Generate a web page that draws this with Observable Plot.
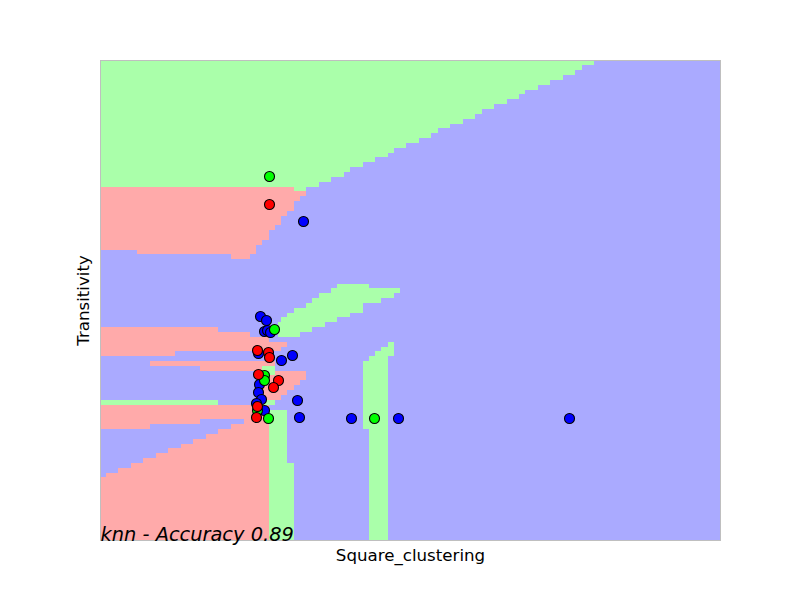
<!DOCTYPE html>
<html>
<head>
<meta charset="utf-8">
<script src="https://cdn.jsdelivr.net/npm/d3@7"></script>
<script src="https://cdn.jsdelivr.net/npm/@observablehq/plot@0.6"></script>
<style>
  html, body { margin: 0; padding: 0; background: #ffffff; }
  #chart svg { display: block; }
</style>
</head>
<body>
<div id="chart"></div>
<script>
// ---- Text ----
const titleText = "knn - Accuracy 0.89";
const xLabel = "Square_clustering";
const yLabel = "Transitivity";

// ---- Colours (decision regions / test points) ----
const regionColor = { red: "#ffaaaa", green: "#aaffaa", blue: "#aaaaff" };
const pointColor  = { red: "#ff0000", green: "#00ff00", blue: "#0000ff" };

// ---- Mesh extent (x: Square_clustering, y: Transitivity, mesh units) ----
const xExtent = [0, 620];
const yExtent = [0, 480];

// ---- Decision regions: [x1, x2, y1, y2] cells ----
// Top green region: column edges and the lower edge of each column (top edge = yExtent max)
const greenTopEdges = [0,194,206,219,231,244,250,263,275,288,294,306,319,331,338,350,363,375,382,394,407,419,425,438,450,463,475,482,494];
const greenTopFloor = [353,349,353,358,363,368,373,378,383,387,392,397,402,407,412,416,421,426,431,436,441,446,450,455,460,465,470,475];

const redUpper = [
  [0,194,349,353],[0,206,344,349],[0,200,339,344],[0,194,329,339],
  [0,187,324,329],[0,181,315,324],[0,175,310,315],[0,169,300,310],
  [0,162,295,300],[0,156,290,295],[37,156,286,290],[131,150,281,286]
];
const redMiddle = [
  [0,118,208,213],[0,150,203,208],[0,169,198,203],
  [0,187,193,198],[0,181,189,193],[0,75,184,189]
];
const redLower = [
  [50,175,174,179],[100,162,169,174],[162,206,160,169],[162,200,155,160],
  [162,194,150,155],[162,187,145,150],[162,181,140,145]
];
const redBottom = [[0,169,0,135]];
const blueWedge = [
  [0,6,63,111],[6,18,67,111],[18,31,72,111],[31,43,77,111],[43,50,82,111],
  [50,56,82,116],[56,68,87,116],[68,81,92,116],[81,93,96,116],[93,100,101,116],
  [100,106,101,121],[106,118,106,121],[118,131,111,121],[131,144,116,121]
];
const greenBand = [
  [237,269,252,256],[231,300,247,252],[219,294,242,247],[212,281,237,242],
  [206,263,232,237],[194,263,227,232],[187,250,223,227],[181,237,218,223],
  [178,225,213,218],[178,212,208,213],[178,200,203,208]
];
const greenTall = [
  [263,269,111,179],[269,275,0,184],[275,281,0,189],[281,288,0,193],[288,294,184,198]
];
const greenLower = [[169,187,0,130],[187,194,0,77]];
const greenSmall = [[0,118,135,140],[162,175,135,140],[162,175,165,174]];

// ---- Test points [x, y] ----
const bluePoints = [
  [203,319],[160,224],[166,220],[164,209],[167,210],[170,208],[158,187],[181,180],
  [192,185],[159,156],[158,148],[161,141],[156,137],[164,130],[197,140],[199,123],
  [251,122],[298,122],[469,122]
];
const greenPoints = [[169,364],[174,211],[164,165],[164,160],[157,130],[168,122],[274,122]];
const redPoints = [
  [169,336],[157,190],[168,188],[169,183],[158,166],[178,160],[173,153],[157,134],[156,123]
];

// ---- Build tables ----
const toCells = (arr, cls) => arr.map(([x1, x2, y1, y2]) => ({x1, x2, y1, y2, cls}));
const greenTop = greenTopFloor.map((f, i) => ({x1: greenTopEdges[i], x2: greenTopEdges[i + 1], y1: f, y2: yExtent[1], cls: "green"}));
const background = [{x1: xExtent[0], x2: xExtent[1], y1: yExtent[0], y2: yExtent[1], cls: "blue"}];
const cells = [
  ...background,
  ...toCells(redUpper, "red"), ...toCells(redMiddle, "red"), ...toCells(redLower, "red"), ...toCells(redBottom, "red"),
  ...toCells(blueWedge, "blue"),
  ...greenTop, ...toCells(greenBand, "green"), ...toCells(greenTall, "green"),
  ...toCells(greenLower, "green"), ...toCells(greenSmall, "green")
];
const points = [
  ...bluePoints.map(([x, y]) => ({x, y, cls: "blue"})),
  ...greenPoints.map(([x, y]) => ({x, y, cls: "green"})),
  ...redPoints.map(([x, y]) => ({x, y, cls: "red"}))
];

const chart = Plot.plot({
  width: 800,
  height: 600,
  marginLeft: 100,
  marginRight: 80,
  marginTop: 60,
  marginBottom: 60,
  style: { fontFamily: "DejaVu Sans", background: "#ffffff", color: "#000" },
  x: { domain: xExtent, axis: null },
  y: { domain: yExtent, axis: null },
  marks: [
    Plot.rect(cells, {
      x1: "x1", x2: "x2", y1: "y1", y2: "y2",
      fill: d => regionColor[d.cls],
      shapeRendering: "crispEdges"
    }),
    Plot.frame({ stroke: "#bfbfbf", strokeWidth: 1 }),
    Plot.dot(points, {
      x: "x", y: "y", r: 5,
      fill: d => pointColor[d.cls],
      stroke: "#000", strokeWidth: 1.1
    }),
    Plot.text([titleText], {
      frameAnchor: "bottom-left", textAnchor: "start", lineAnchor: "bottom",
      fontSize: 19.4, fontStyle: "italic", fill: "#000"
    }),
    Plot.text([xLabel], {
      frameAnchor: "bottom", textAnchor: "middle", lineAnchor: "bottom", dy: 20,
      fontSize: 16.67, fill: "#000"
    }),
    Plot.text([yLabel], {
      frameAnchor: "left", textAnchor: "middle", lineAnchor: "bottom", rotate: -90, dx: -12,
      fontSize: 16.67, fill: "#000"
    })
  ]
});
document.getElementById("chart").appendChild(chart);
</script>
</body>
</html>
